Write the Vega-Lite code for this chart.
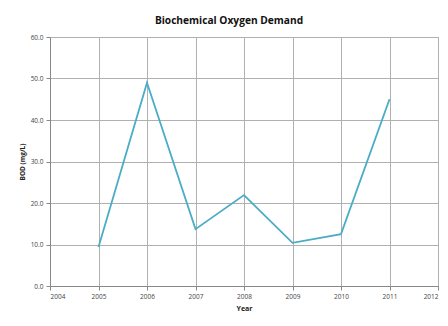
{
  "$schema": "https://vega.github.io/schema/vega-lite/v6.json",
  "autosize": "none",
  "width": 388,
  "height": 249,
  "padding": {"left": 50, "top": 37, "right": 10, "bottom": 40},
  "background": "white",
  "title": {
    "text": "Biochemical Oxygen Demand",
    "font": "Open Sans",
    "fontSize": 10.2,
    "fontWeight": "bold",
    "color": "#111111",
    "anchor": "middle",
    "dx": -15,
    "offset": 8
  },
  "data": {
    "values": [
      {"Year": 2005, "BOD": 9.4},
      {"Year": 2006, "BOD": 49.0},
      {"Year": 2007, "BOD": 13.7},
      {"Year": 2008, "BOD": 21.9},
      {"Year": 2009, "BOD": 10.4},
      {"Year": 2010, "BOD": 12.5},
      {"Year": 2011, "BOD": 45.0}
    ]
  },
  "mark": {"type": "line", "color": "#4BACC6", "strokeWidth": 1.8},
  "encoding": {
    "x": {
      "field": "Year",
      "type": "quantitative",
      "scale": {"domain": [2004, 2012], "nice": false, "zero": false},
      "axis": {
        "values": [2004, 2005, 2006, 2007, 2008, 2009, 2010, 2011, 2012],
        "format": "d",
        "title": "Year",
        "titleFont": "Open Sans",
        "titleFontSize": 7,
        "titleFontWeight": "bold",
        "titleColor": "#222222",
        "titlePadding": 5,
        "labelFont": "Open Sans",
        "labelFontSize": 6.5,
        "labelColor": "#444444",
        "labelPadding": 3,
        "tickSize": 4,
        "tickColor": "#888888",
        "domainColor": "#888888",
        "gridColor": "#b0b0b0",
        "gridWidth": 1
      }
    },
    "y": {
      "field": "BOD",
      "type": "quantitative",
      "scale": {"domain": [0, 60], "nice": false},
      "axis": {
        "values": [0, 10, 20, 30, 40, 50, 60],
        "format": ".1f",
        "title": "BOD (mg/L)",
        "titleFont": "Open Sans",
        "titleFontSize": 6.5,
        "titleFontWeight": "bold",
        "titleColor": "#222222",
        "titlePadding": 5,
        "labelFont": "Open Sans",
        "labelFontSize": 6.5,
        "labelColor": "#444444",
        "labelPadding": 3,
        "tickSize": 4,
        "tickColor": "#888888",
        "domainColor": "#888888",
        "gridColor": "#b0b0b0",
        "gridWidth": 1
      }
    }
  },
  "config": {
    "view": {"stroke": "#b0b0b0"}
  }
}
